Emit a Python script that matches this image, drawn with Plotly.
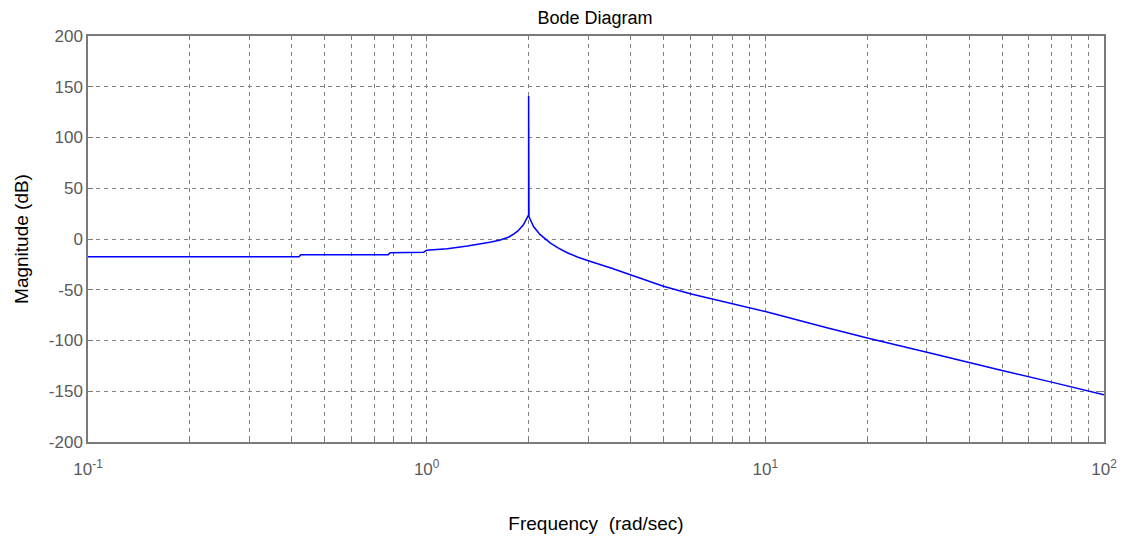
import plotly.graph_objects as go

# Frequency (rad/sec) and magnitude (dB)
freq = [0.1, 0.2, 0.3, 0.42, 0.425, 0.6, 0.77, 0.78, 0.9, 0.98, 1.0,
        1.15, 1.32, 1.45, 1.55, 1.65, 1.75, 1.81, 1.86, 1.93, 1.98, 1.995,
        2.0, 2.0, 2.005, 2.03, 2.07, 2.16, 2.26, 2.32, 2.45, 2.6, 2.8, 3.0, 3.5,
        4.0, 4.5, 5.0, 6.0, 7.0, 8.0, 10.0, 15.0, 20.0, 30.0, 40.0, 50.0,
        70.0, 90.0, 100.0]
mag_db = [-17.5, -17.5, -17.5, -17.5, -15.5, -15.5, -15.5, -13.5, -13.5, -13.0, -11.0,
          -9.5, -7.0, -5.0, -3.0, -1.0, 2.0, 5.0, 8.0, 14.0, 20.0, 23.0,
          24.0, 141.0, 22.0, 18.0, 12.0, 4.5, -1.0, -4.0, -9.0, -13.5, -18.0, -21.5, -28.5,
          -35.0, -41.0, -46.5, -54.0, -59.5, -64.0, -71.5, -87.0, -97.5, -111.5, -122.0, -129.5,
          -141.0, -150.0, -153.5]

x_tick_vals = [0.1, 1, 10, 100]
x_tick_text = ["10<sup>-1</sup>", "10<sup>0</sup>", "10<sup>1</sup>", "10<sup>2</sup>"]
x_minor_vals = [m * d for d in (0.1, 1, 10) for m in range(2, 10)]
y_tick_vals = [-200, -150, -100, -50, 0, 50, 100, 150, 200]
y_tick_text = ["-200", "-150", "-100", "-50", "0", "50", "100", "150", "200"]

FONT = "Liberation Sans, Arial, sans-serif"
GRID = "#808080"
AXIS = "#7a7a7a"
TICKFONT = dict(family=FONT, size=17, color="#5a5a5a")

fig = go.Figure()
fig.add_trace(go.Scatter(
    x=freq, y=mag_db, mode="lines",
    line=dict(color="#0000ff", width=1.5),
    showlegend=False, hoverinfo="x+y",
))

fig.update_layout(
    width=1117, height=526,
    margin=dict(l=80, r=21, t=28, b=92, autoexpand=False),
    paper_bgcolor="white", plot_bgcolor="white",
    title=dict(text="Bode Diagram", x=0.5255, xanchor="center", xref="container",
               y=0.981, yanchor="middle", yref="container",
               font=dict(family=FONT, size=18, color="black")),
    xaxis=dict(
        type="log", range=[-1, 2], automargin=False,
        tickvals=x_tick_vals, ticktext=x_tick_text,
        tickfont=TICKFONT, ticklabelstandoff=11,
        showgrid=True, gridcolor=GRID, griddash="4px,4px", gridwidth=1,
        showline=True, linecolor=AXIS, linewidth=1.5, mirror="allticks",
        ticks="inside", ticklen=5, tickcolor=AXIS,
        minor=dict(tickvals=x_minor_vals, showgrid=True, gridcolor=GRID,
                   griddash="4px,4px", gridwidth=1, ticks="inside", ticklen=4,
                   tickcolor=AXIS),
        zeroline=False,
        title=dict(text="Frequency  (rad/sec)", standoff=44,
                   font=dict(family=FONT, size=19, color="black")),
    ),
    yaxis=dict(
        range=[-200, 200], tickvals=y_tick_vals, ticktext=y_tick_text,
        automargin=False, tickfont=TICKFONT,
        showgrid=True, gridcolor=GRID, griddash="4px,4px", gridwidth=1,
        showline=True, linecolor=AXIS, linewidth=1.5, mirror="allticks",
        ticks="inside", ticklen=5, tickcolor=AXIS,
        zeroline=False,
        title=dict(text="Magnitude (dB)", standoff=15,
                   font=dict(family=FONT, size=19, color="black")),
    ),
)

fig.write_html("out.html")
